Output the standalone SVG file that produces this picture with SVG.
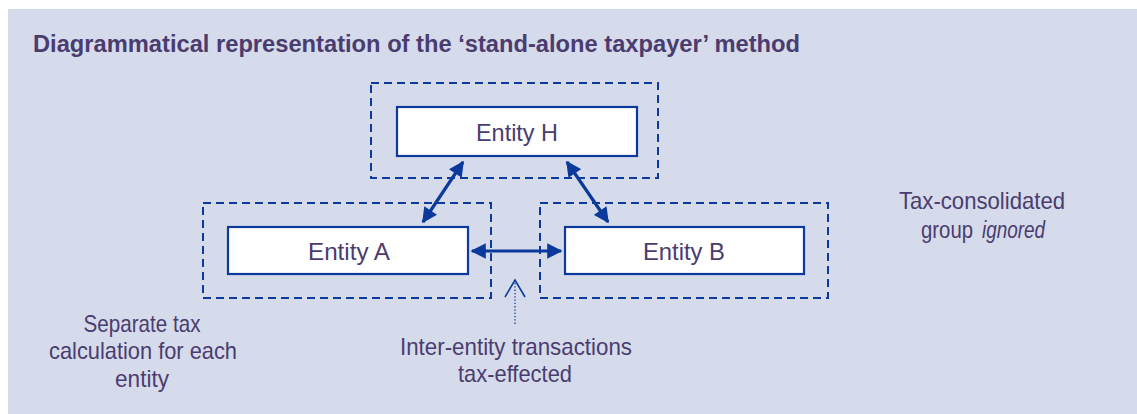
<svg xmlns="http://www.w3.org/2000/svg" width="1137" height="414" viewBox="0 0 1137 414">
<defs>
<style>
.t{font-family:"Liberation Sans",Arial,sans-serif;font-size:24px;fill:#4b3c70;text-anchor:middle}
.s{font-family:"Liberation Sans",Arial,sans-serif;font-size:24px;fill:#4b3c70;text-anchor:start}
.title{font-family:"Liberation Sans",Arial,sans-serif;font-size:23px;font-weight:bold;fill:#4b3c70}
.dash{fill:none;stroke:#0b3a9c;stroke-width:2;stroke-dasharray:8 5}
.box{fill:#ffffff;stroke:#0b3a9c;stroke-width:2.2}
.conn{stroke:#0b3a9c;stroke-width:3.2;fill:none}
</style>
<marker id="ah" viewBox="0 0 10 10" refX="9" refY="5" markerWidth="5.2" markerHeight="4.8" orient="auto-start-reverse" markerUnits="strokeWidth">
<path d="M0,0 L10,5 L0,10 Z" fill="#0b3a9c"/>
</marker>
</defs>
<rect x="8" y="9" width="1129" height="405" fill="#d5dbea"/>
<text class="title" x="33" y="52" textLength="767" lengthAdjust="spacingAndGlyphs">Diagrammatical representation of the ‘stand-alone taxpayer’ method</text>

<g id="group-h">
<rect class="dash" x="371" y="83" width="287" height="95"/>
</g>
<g id="group-a">
<rect class="dash" x="203" y="203" width="288" height="95"/>
</g>
<g id="group-b">
<rect class="dash" x="540" y="203" width="288" height="95"/>
</g>

<g id="connectors">
<line class="conn" x1="463" y1="162" x2="423" y2="222" marker-start="url(#ah)" marker-end="url(#ah)"/>
<line class="conn" x1="567" y1="162" x2="608" y2="222" marker-start="url(#ah)" marker-end="url(#ah)"/>
<line class="conn" x1="472" y1="251" x2="561" y2="251" marker-start="url(#ah)" marker-end="url(#ah)"/>
<line x1="515" y1="283" x2="515" y2="324" stroke="#0b3a9c" stroke-width="1.3" stroke-dasharray="1.3 2"/>
<polyline points="505,297 515,280 525,297" fill="none" stroke="#0b3a9c" stroke-width="1.6"/>
</g>

<g id="entity-h">
<rect class="box" x="397" y="107" width="240" height="49"/>
<text class="t" x="517" y="141" textLength="82" lengthAdjust="spacingAndGlyphs">Entity H</text>
</g>
<g id="entity-a">
<rect class="box" x="228" y="227" width="240" height="47"/>
<text class="t" x="349" y="260" textLength="82" lengthAdjust="spacingAndGlyphs">Entity A</text>
</g>
<g id="entity-b">
<rect class="box" x="565" y="227" width="239" height="47"/>
<text class="t" x="684" y="260" textLength="82" lengthAdjust="spacingAndGlyphs">Entity B</text>
</g>

<g id="label-consolidated">
<text class="t" x="982" y="209" textLength="166" lengthAdjust="spacingAndGlyphs">Tax-consolidated</text>
<text class="s" x="921" y="238" textLength="52" lengthAdjust="spacingAndGlyphs">group</text>
<text class="s" x="982" y="238" font-style="italic" textLength="63" lengthAdjust="spacingAndGlyphs">ignored</text>
</g>
<g id="label-separate">
<text class="t" x="142" y="332" textLength="117" lengthAdjust="spacingAndGlyphs">Separate tax</text>
<text class="t" x="143" y="359" textLength="188" lengthAdjust="spacingAndGlyphs">calculation for each</text>
<text class="t" x="142" y="387" textLength="54" lengthAdjust="spacingAndGlyphs">entity</text>
</g>
<g id="label-inter">
<text class="t" x="516" y="355" textLength="232" lengthAdjust="spacingAndGlyphs">Inter-entity transactions</text>
<text class="t" x="515" y="382" textLength="114" lengthAdjust="spacingAndGlyphs">tax-effected</text>
</g>
</svg>
